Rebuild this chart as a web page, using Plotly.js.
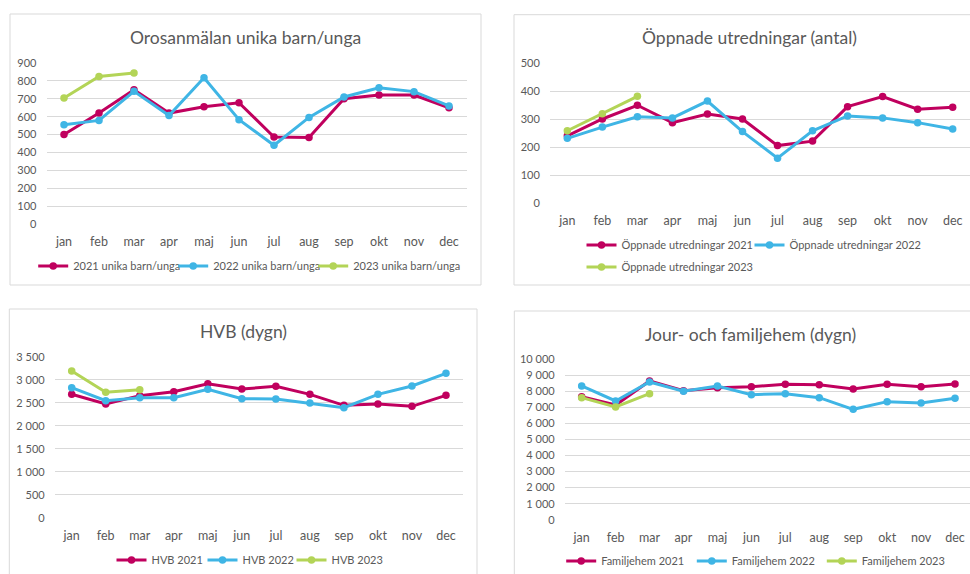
<!DOCTYPE html>
<html>
<head>
<meta charset="utf-8">
<script src="https://cdn.plot.ly/plotly-3.0.1.min.js"></script>
<style>html,body{margin:0;padding:0;background:#fff;}#chart{width:970px;height:574px;}</style>
</head>
<body>
<div id="chart"></div>
<script>
const months = ['jan','feb','mar','apr','maj','jun','jul','aug','sep','okt','nov','dec'];
const months2023 = ['jan','feb','mar'];

const oro2021 = [500,620,750,620,655,678,486,483,700,721,721,650];
const oro2022 = [555,579,742,607,818,583,440,596,710,762,740,660];
const oro2023 = [704,825,844];

const utr2021 = [240,300,349,287,318,300,205,221,344,380,335,342];
const utr2022 = [231,271,308,304,364,255,160,258,311,304,287,264];
const utr2023 = [258,319,381];

const hvb2021 = [2690,2480,2660,2746,2920,2804,2862,2688,2449,2478,2428,2667];
const hvb2022 = [2833,2551,2616,2616,2797,2594,2587,2500,2399,2688,2870,3145];
const hvb2023 = [3196,2732,2790];

const fam2021 = [7670,7150,8650,8046,8233,8295,8441,8420,8150,8441,8295,8462];
const fam2022 = [8337,7401,8586,8004,8337,7796,7859,7609,6881,7360,7277,7568];
const fam2023 = [7609,7027,7859];

const titles = ['Orosanmälan unika barn/unga','Öppnade utredningar (antal)','HVB (dygn)','Jour- och familjehem (dygn)'];
const names1 = ['2021 unika barn/unga','2022 unika barn/unga','2023 unika barn/unga'];
const names2 = ['Öppnade utredningar 2021','Öppnade utredningar 2022','Öppnade utredningar 2023'];
const names3 = ['HVB 2021','HVB 2022','HVB 2023'];
const names4 = ['Familjehem 2021','Familjehem 2022','Familjehem 2023'];

const W = 970, H = 574;
const C21 = '#C0005E', C22 = '#3FB5E5', C23 = '#B3D457';
const GREY = '#595959', GRID = '#D9D9D9';
const FONT = 'Lato, "Liberation Sans", sans-serif';

// panel geometry in pixels
const panels = [
  {xL:46.5, xR:466.5, yTop:63, yBot:224, max:900, dtick:100},
  {xL:549.8, xR:970.2, yTop:63, yBot:203, max:500, dtick:100},
  {xL:54.7, xR:463, yTop:357, yBot:518, max:3500, dtick:500},
  {xL:564.7, xR:972, yTop:359.3, yBot:519.7, max:10000, dtick:1000}
];

const layout = {
  width: W, height: H,
  margin: {l:0, r:0, t:0, b:0, autoexpand:false},
  paper_bgcolor: '#fff', plot_bgcolor: 'rgba(0,0,0,0)',
  font: {family: FONT, color: GREY, size: 12},
  separators: ', ',
  showlegend: true,
  shapes: [], annotations: []
};

panels.forEach((p, i) => {
  const n = i === 0 ? '' : String(i + 1);
  const eps = 0.003;
  const span = p.yBot - p.yTop;
  const topPx = p.yTop - span * eps, botPx = p.yBot + span * eps;
  const xR = Math.min(p.xR, W);
  const xMax = -0.5 + 12 * (xR - p.xL) / (p.xR - p.xL);
  layout['xaxis' + n] = {
    domain: [p.xL / W, xR / W], anchor: 'y' + n,
    type: 'category', range: [-0.5, xMax],
    showgrid: false, zeroline: false, showline: false, ticks: '',
    tickfont: {size: 12.5, color: GREY, family: FONT}, ticklabelstandoff: 8,
    fixedrange: true, automargin: false
  };
  layout['yaxis' + n] = {
    domain: [1 - botPx / H, 1 - topPx / H], anchor: 'x' + n,
    range: [-p.max * eps, p.max * (1 + eps)],
    dtick: p.dtick, tick0: 0, separatethousands: true, exponentformat: 'none',
    showgrid: true, gridcolor: GRID, gridwidth: 1, zeroline: false,
    showline: false, ticks: '',
    tickfont: {size: 11, color: GREY, family: FONT}, ticklabelstandoff: 9,
    fixedrange: true, automargin: false
  };
});

// borders
const boxes = [[10,14,481,285],[514,14.7,980,285],[9.3,309,477,590],[514.3,311,980,590]];
boxes.forEach(b => layout.shapes.push({
  type:'rect', xref:'paper', yref:'paper',
  x0:b[0]/W, x1:b[2]/W, y0:1-b[3]/H, y1:1-b[1]/H,
  line:{color:GRID, width:1}, fillcolor:'rgba(0,0,0,0)', layer:'below'
}));

// titles
const titlePos = [[245,37],[749,37],[243.5,331],[750,334]];
titles.forEach((t, i) => layout.annotations.push({
  text: t, xref:'paper', yref:'paper', x: titlePos[i][0]/W, y: 1 - titlePos[i][1]/H,
  xanchor:'center', yanchor:'middle', showarrow:false,
  font:{size:17.5, color:GREY, family:FONT}
}));

// one legend per entry (line start x, centre y), in trace order
const legPos = [
  [38.7,266],[178.7,266],[318.7,266],
  [587,245],[755,245],[587,267],
  [117,560],[208,560],[297,560],
  [566.7,561],[697.3,561],[827.3,561]
];
legPos.forEach((lp, i) => {
  const key = i === 0 ? 'legend' : 'legend' + (i + 1);
  layout[key] = {orientation:'h', x:(lp[0]-5.5)/W, y:1-lp[1]/H, xanchor:'left', yanchor:'middle',
    bgcolor:'rgba(0,0,0,0)', borderwidth:0,
    font:{size:11, color:GREY, family:FONT}, itemclick:false, itemdoubleclick:false};
});

function tr(x, y, name, color, ax, idx) {
  return {type:'scatter', mode:'lines+markers', x:x, y:y, name:name, showlegend:true,
    xaxis:'x'+ax, yaxis:'y'+ax, legend: idx === 0 ? 'legend' : 'legend' + (idx + 1),
    line:{color:color, width:3}, marker:{color:color, size:7.5},
    hoverinfo:'skip', cliponaxis:false};
}

const data = [
  tr(months, oro2021, names1[0], C21, '', 0),
  tr(months, oro2022, names1[1], C22, '', 1),
  tr(months2023, oro2023, names1[2], C23, '', 2),
  tr(months, utr2021, names2[0], C21, '2', 3),
  tr(months, utr2022, names2[1], C22, '2', 4),
  tr(months2023, utr2023, names2[2], C23, '2', 5),
  tr(months, hvb2021, names3[0], C21, '3', 6),
  tr(months, hvb2022, names3[1], C22, '3', 7),
  tr(months2023, hvb2023, names3[2], C23, '3', 8),
  tr(months, fam2021, names4[0], C21, '4', 9),
  tr(months, fam2022, names4[1], C22, '4', 10),
  tr(months2023, fam2023, names4[2], C23, '4', 11)
];

Plotly.newPlot('chart', data, layout, {staticPlot:true, displayModeBar:false});
</script>
</body>
</html>
